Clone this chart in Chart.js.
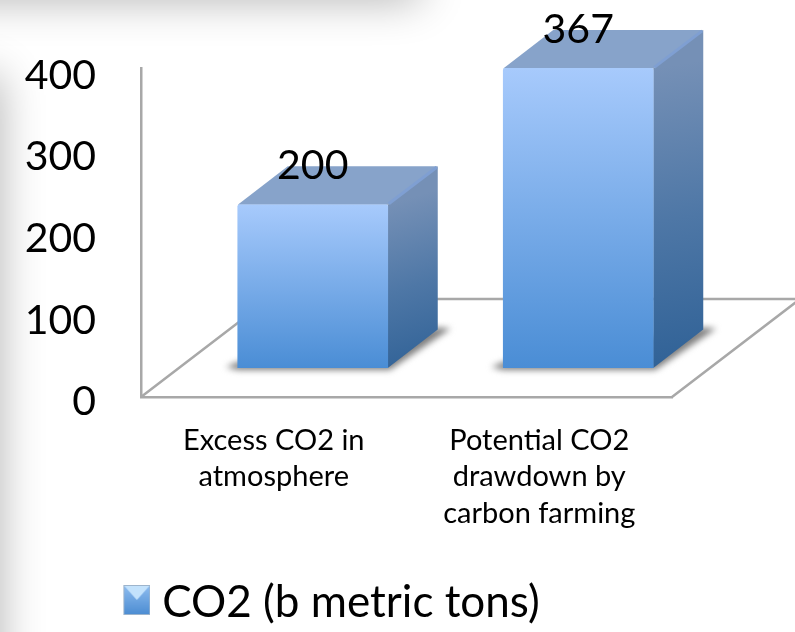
<!DOCTYPE html>
<html lang="en">

<head>
    <meta charset="utf-8" />
    <title>CO2 chart</title>
    <script src="https://cdn.jsdelivr.net/npm/chart.js"></script>
    <style>
        html, body { margin: 0; padding: 0; background: #fff; width: 795px; height: 632px; overflow: hidden; }
        .edge { position: absolute; background: #c4c4c4; box-shadow: 0 0 44px 0 #b0b0b0; }
        #top-edge { left: -60px; top: -40px; width: 480px; height: 40px; }
        #left-edge { left: -40px; top: 75px; width: 40px; height: 700px; }
        #TelemetryChart { position: absolute; left: 0; top: 0; }
    </style>
</head>

<body>
    <div class="edge" id="top-edge"></div>
    <div class="edge" id="left-edge"></div>
    <canvas id="TelemetryChart" width="795" height="632"></canvas>
    <script>
        const categories = [['Excess CO2 in', 'atmosphere'], ['Potential CO2', 'drawdown by', 'carbon farming']];
        const seriesName = 'CO2 (b metric tons)';
        const seriesValues = [200, 367];
        const yTicks = [0, 100, 200, 300, 400];

        const FONT = 'Lato';
        // the bars stand further back on the floor than the axis
        const BAR_SHIFT_X = 39;
        const BAR_SHIFT_Y = -29;
        const DEPTH_X = 50;
        const DEPTH_Y = -38.5;
        const FLOOR_X = 128;
        const FLOOR_Y = -98;

        function poly(ctx, pts, fill) {
            ctx.beginPath();
            pts.forEach((p, i) => i ? ctx.lineTo(p[0], p[1]) : ctx.moveTo(p[0], p[1]));
            ctx.closePath();
            ctx.fillStyle = fill;
            ctx.fill();
        }

        function barBox(bar) {
            return {
                x0: bar.x - bar.width / 2 + BAR_SHIFT_X,
                x1: bar.x + bar.width / 2 + BAR_SHIFT_X,
                top: bar.y + BAR_SHIFT_Y,
                bottom: bar.base + BAR_SHIFT_Y
            };
        }

        const box3d = {
            id: 'box3d',
            afterLayout(chart) {
                // legend sits a little left of the middle and lower than the layout puts it
                chart.legend.left -= 5.5;
                chart.legend.right -= 5.5;
                chart.legend.top += 3;
                chart.legend.bottom += 3;
            },
            beforeDatasetsDraw(chart) {
                const ctx = chart.ctx;
                const area = chart.chartArea;
                ctx.save();
                ctx.strokeStyle = '#a8a8a8';
                ctx.lineWidth = 2.5;
                ctx.beginPath();
                ctx.moveTo(area.left, area.bottom);
                ctx.lineTo(area.left + FLOOR_X, area.bottom + FLOOR_Y);
                ctx.lineTo(area.right + FLOOR_X, area.bottom + FLOOR_Y);
                ctx.lineTo(area.right, area.bottom);
                ctx.stroke();
                ctx.restore();
            },
            beforeDatasetDraw(chart, args) {
                const ctx = chart.ctx;
                ctx.save();
                args.meta.data.forEach(bar => {
                    const b = barBox(bar);
                    const backX = b.x1 + DEPTH_X;
                    // soft shadow on the floor
                    ctx.save();
                    ctx.filter = 'blur(3px)';
                    poly(ctx, [[b.x0 - 12, b.bottom - 1], [b.x0, b.bottom - 6], [backX, b.bottom + DEPTH_Y - 2],
                        [backX + 13, b.bottom + DEPTH_Y - 1], [b.x1 + 2, b.bottom + 2], [b.x0, b.bottom + 2]], '#808080');
                    ctx.restore();
                    // top face
                    poly(ctx, [[b.x0, b.top], [b.x0 + DEPTH_X, b.top + DEPTH_Y], [backX, b.top + DEPTH_Y], [b.x1, b.top]], '#87a3ca');
                    // side face
                    const side = ctx.createLinearGradient(b.x1, b.top, backX, b.bottom);
                    side.addColorStop(0, '#7590b6');
                    side.addColorStop(0.5, '#4e77a6');
                    side.addColorStop(1, '#2f6196');
                    poly(ctx, [[b.x1, b.top], [backX, b.top + DEPTH_Y], [backX, b.bottom + DEPTH_Y], [b.x1, b.bottom]], side);
                    // bevel between top and side
                    ctx.strokeStyle = '#7f9fd2';
                    ctx.lineWidth = 3;
                    ctx.beginPath();
                    ctx.moveTo(b.x1 + 1, b.top - 1);
                    ctx.lineTo(backX - 1, b.top + DEPTH_Y + 1);
                    ctx.stroke();
                });
                ctx.restore();
                ctx.save();
                ctx.translate(BAR_SHIFT_X, BAR_SHIFT_Y);
            },
            afterDatasetDraw(chart) {
                chart.ctx.restore();
            },
            afterDatasetsDraw(chart) {
                const ctx = chart.ctx;
                const meta = chart.getDatasetMeta(0);
                ctx.save();
                ctx.font = '41px ' + FONT;
                ctx.fillStyle = '#000';
                ctx.textAlign = 'center';
                ctx.textBaseline = 'middle';
                meta.data.forEach((bar, i) => {
                    const b = barBox(bar);
                    ctx.fillText(seriesValues[i], (b.x0 + b.x1) / 2, b.top - 39);
                });
                ctx.restore();
            }
        };

        function frontFill(c) {
            if (c.type !== 'data' || !c.chart.chartArea) return '#6ea4e6';
            const y = c.chart.scales.y;
            const g = c.chart.ctx.createLinearGradient(0, y.getPixelForValue(c.parsed.y), 0, y.getPixelForValue(0));
            g.addColorStop(0, '#a7cafc');
            g.addColorStop(1, '#4a8dd5');
            return g;
        }

        function legendSwatch() {
            // wider and taller than the swatch so it lands where the reference has it
            const s = document.createElement('canvas');
            s.width = 39;
            s.height = 36;
            const ctx = s.getContext('2d');
            const g = ctx.createLinearGradient(0, 0, 0, 30);
            g.addColorStop(0, '#8fbdf0');
            g.addColorStop(1, '#4b8cd2');
            poly(ctx, [[12, 0], [39, 0], [39, 30], [12, 30]], '#9db4cc');
            poly(ctx, [[13, 1], [38, 1], [38, 29], [13, 29]], g);
            poly(ctx, [[13, 1], [38, 1], [25.5, 15]], '#c3e2fc');
            return s;
        }

        const chart = new Chart(document.getElementById('TelemetryChart'), {
            type: 'bar',
            data: {
                labels: categories,
                datasets: [{
                    label: seriesName,
                    data: seriesValues,
                    backgroundColor: frontFill,
                    barThickness: 150,
                    borderRadius: 2
                }]
            },
            options: {
                responsive: false,
                animation: false,
                layout: { padding: { top: 68, right: 123, left: 0, bottom: 0 } },
                plugins: {
                    tooltip: { enabled: false },
                    legend: {
                        position: 'bottom',
                        labels: {
                            color: '#000',
                            font: { family: FONT, size: 44 },
                            usePointStyle: true,
                            boxWidth: 19,
                            padding: 8,
                            generateLabels: () => [{
                                text: seriesName,
                                fontColor: '#000',
                                pointStyle: legendSwatch(),
                                datasetIndex: 0
                            }]
                        }
                    }
                },
                scales: {
                    x: {
                        grid: { display: false, drawTicks: false },
                        border: { display: true, color: '#a8a8a8', width: 2.5 },
                        afterFit: scale => { scale.height = 173; },
                        ticks: {
                            color: '#000',
                            padding: 25,
                            maxRotation: 0,
                            font: { family: FONT, size: 29, lineHeight: 1.26 }
                        }
                    },
                    y: {
                        min: 0,
                        max: 403,
                        grid: { display: false, drawTicks: false },
                        border: { display: true, color: '#a8a8a8', width: 2.5 },
                        afterFit: scale => { scale.width = 141; },
                        afterBuildTicks: scale => { scale.ticks = yTicks.map(v => ({ value: v })); },
                        ticks: {
                            color: '#000',
                            padding: 45,
                            // empty first line pushes the number a few px below the tick position
                            callback: v => ['', v],
                            font: { family: FONT, size: 41, lineHeight: 0.24 }
                        }
                    }
                }
            },
            plugins: [box3d]
        });
    </script>
</body>

</html>
